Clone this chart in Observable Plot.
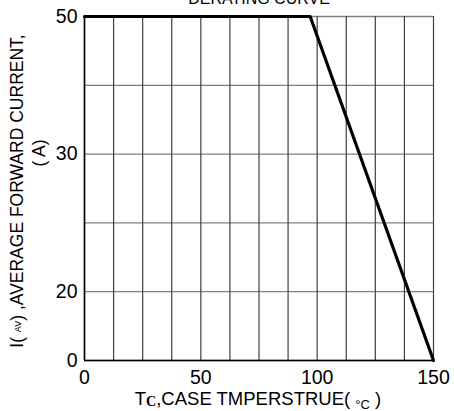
<!DOCTYPE html>
<html><head><meta charset="utf-8">
<script src="https://cdn.jsdelivr.net/npm/d3@7"></script>
<script src="https://cdn.jsdelivr.net/npm/@observablehq/plot@0.6"></script>
<style>body{margin:0;background:#fff}</style>
</head><body><div id="chart"></div>
<script>
const caseTemp = [0, 97, 150];
const current = [50, 50, 0];
const xGrid = [0, 12.5, 25, 37.5, 50, 62.5, 75, 87.5, 100, 112.5, 125, 137.5, 150];
const yGrid = [0, 10, 20, 30, 40, 50];
const xTicks = [0, 50, 100, 150];
const yTicks = [0, 10, 30, 50];
const yTickLabels = ["0", "20", "30", "50"];
const title = "DERATING CURVE";

const data = caseTemp.map((t, k) => ({t, a: current[k]}));
const FONT = "'Liberation Sans', Arial, sans-serif";

const plot = Plot.plot({
  width: 454, height: 411,
  marginLeft: 84, marginRight: 21, marginTop: 16, marginBottom: 51,
  style: {fontFamily: FONT, fontSize: "19.5px", color: "#000", background: "#fff", overflow: "visible"},
  x: {domain: [0, 150], ticks: xTicks, tickSize: 0, tickPadding: 10, label: null},
  y: {domain: [0, 50], ticks: yTicks, tickFormat: d => yTickLabels[yTicks.indexOf(d)], tickSize: 0, tickPadding: 7, label: null},
  marks: [
    Plot.ruleY(yGrid, {stroke: "#808080", strokeWidth: 1.3}),
    Plot.ruleX(xGrid, {stroke: "#404040", strokeWidth: 1.2}),
    Plot.ruleX([0], {stroke: "#000", strokeWidth: 1.6}),
    Plot.ruleY([0], {stroke: "#000", strokeWidth: 1.6}),
    Plot.line(data, {x: "t", y: "a", stroke: "#000", strokeWidth: 3.2}),
    Plot.text([title], {frameAnchor: "top", dy: -13, lineAnchor: "bottom", fontSize: 16, fill: "#000"})
  ]
});
document.getElementById("chart").appendChild(plot);

const svg = d3.select(plot);
// y-axis label, line 1
const yl1 = svg.append("text")
  .attr("transform", "translate(23,191) rotate(-90)")
  .attr("text-anchor", "middle")
  .attr("font-family", FONT).attr("font-size", 17.5).attr("fill", "#000");
yl1.append("tspan").text("I( ");
yl1.append("tspan").attr("font-size", 9).attr("dy", -2).text("AV");
yl1.append("tspan").attr("dy", 2).text(") ,AVERAGE FORWARD CURRENT,");
// y-axis label, line 2
svg.append("text")
  .attr("transform", "translate(45,153) rotate(-90)")
  .attr("text-anchor", "middle")
  .attr("font-family", FONT).attr("font-size", 17.5).attr("fill", "#000")
  .text("( A)");
// x-axis label
const xl = svg.append("text")
  .attr("x", 258).attr("y", 405)
  .attr("text-anchor", "middle")
  .attr("font-family", FONT).attr("font-size", 18.5).attr("fill", "#000");
xl.append("tspan").text("T");
xl.append("tspan").attr("font-family", "'Liberation Serif', serif").attr("font-weight", "bold").attr("font-size", 14).attr("dy", 1).text("C");
xl.append("tspan").attr("dy", -1).text(",CASE TMPERSTRUE( ");
xl.append("tspan").attr("font-size", 13).attr("dy", 4).text("°C");
xl.append("tspan").attr("dy", -4).text(" )");
</script>
</body></html>
